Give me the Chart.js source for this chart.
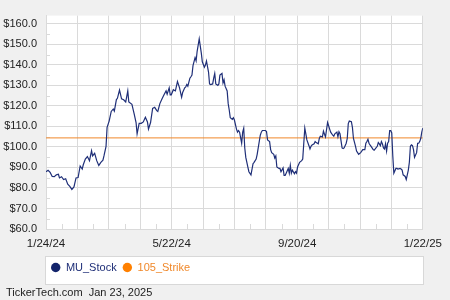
<!DOCTYPE html>
<html>
<head>
<meta charset="utf-8">
<script src="https://cdn.jsdelivr.net/npm/chart.js@4/dist/chart.umd.min.js"></script>
<style>
  html, body { margin: 0; padding: 0; background: #f0f0f0; }
  #wrap { width: 450px; height: 300px; position: relative; }
</style>
</head>
<body>
<div id="wrap"><canvas id="stockChart" width="450" height="300"></canvas></div>
<script>
// days since 1/24/24 and closing prices
const dayOffsets = [
  0, 2, 4, 6, 8, 10, 12, 13, 15, 17,
  19, 21, 23, 25, 27, 29, 31, 33, 35, 36,
  38, 40, 42, 44, 45, 47, 49, 51, 53, 55,
  56, 58, 59, 61, 63, 65, 66, 68, 69, 71,
  73, 75, 77, 79, 80, 83, 85, 87, 88, 90,
  92, 94, 96, 98, 99, 101, 103, 105, 107, 108,
  110, 112, 114, 116, 117, 119, 120, 121, 123, 125,
  127, 129, 131, 132, 134, 135, 136, 137, 139, 140,
  141, 142, 144, 145, 146, 148, 150, 151, 153, 154,
  155, 157, 158, 159, 161, 162, 163, 164, 166, 167,
  168, 170, 171, 172, 173, 175, 176, 177, 178, 180,
  181, 182, 184, 185, 186, 187, 189, 190, 191, 192,
  193, 195, 196, 198, 200, 201, 203, 204, 205, 207,
  208, 209, 211, 212, 213, 214, 216, 217, 218, 220,
  221, 222, 223, 225, 226, 227, 229, 230, 231, 232,
  234, 235, 236, 237, 238, 240, 241, 242, 243, 245,
  247, 248, 250, 251, 252, 254, 255, 256, 257, 259,
  260, 261, 263, 264, 265, 267, 268, 269, 270, 272,
  273, 274, 275, 277, 278, 279, 281, 282, 283, 284,
  286, 287, 288, 290, 291, 292, 293, 295, 296, 297,
  299, 300, 301, 302, 304, 305, 306, 308, 309, 310,
  311, 312, 313, 315, 316, 317, 318, 320, 321, 322,
  323, 324, 325, 326, 327, 328, 329, 330, 331, 332,
  333, 334, 335, 336, 338, 339, 340, 342, 343, 344,
  345, 347, 348, 349, 350, 351, 352, 353, 354, 355,
  356, 358, 359, 360, 361, 362, 363, 364
];
const muPrices = [
  87.9, 88.6, 87.6, 85.6, 85.5, 86.4, 86.7, 84.9, 85.5, 84.1,
  84.5, 81.8, 80.8, 79.3, 80.5, 84.9, 85.1, 90.7, 89.2, 91.3,
  94.1, 95.3, 93.3, 98.1, 95.6, 96.9, 93.3, 91.0, 92.5, 93.5,
  95.6, 100.3, 109.5, 112.6, 117.3, 118.5, 117.5, 123.1, 123.7, 127.7,
  123.4, 123.0, 121.9, 127.3, 121.9, 120.8, 116.5, 111.9, 106.4, 111.5,
  111.5, 112.2, 114.5, 112.2, 108.7, 111.9, 118.8, 119.3, 117.7, 117.3,
  121.1, 123.4, 125.4, 127.3, 125.7, 128.8, 125.4, 125.4, 127.9, 127.3,
  131.9, 128.8, 124.2, 126.5, 128.8, 129.3, 130.4, 129.6, 133.5, 134.2,
  135.0, 139.6, 143.5, 141.9, 146.6, 152.7, 145.8, 141.5, 138.8, 139.9,
  141.9, 136.5, 130.7, 130.4, 130.7, 133.5, 135.8, 130.7, 130.0, 130.7,
  135.0, 135.8, 131.2, 132.7, 129.6, 127.3, 121.1, 118.0, 114.2, 113.4,
  114.2, 113.1, 108.7, 107.2, 108.0, 107.2, 101.8, 107.2, 109.1, 99.5,
  94.9, 90.2, 87.9, 86.4, 91.8, 92.5, 94.1, 96.4, 99.5, 105.7,
  107.2, 108.0, 108.0, 108.0, 107.5, 103.4, 102.6, 98.7, 97.2, 96.4,
  94.6, 95.6, 90.2, 89.5, 89.5, 87.9, 89.8, 86.1, 86.1, 87.2,
  89.5, 87.2, 91.0, 87.2, 88.7, 86.9, 87.9, 87.2, 90.2, 92.5,
  93.3, 94.1, 109.2, 106.4, 103.4, 100.6, 99.0, 100.3, 101.0, 101.5,
  102.6, 102.1, 101.5, 104.1, 105.2, 104.9, 107.7, 106.2, 104.9, 111.9,
  110.3, 108.7, 107.2, 105.7, 105.2, 106.4, 107.2, 104.9, 107.4, 106.4,
  99.5, 99.2, 99.5, 101.8, 104.1, 111.4, 112.6, 112.3, 109.5, 104.1,
  100.3, 98.0, 97.2, 96.4, 97.2, 98.0, 98.7, 98.7, 101.8, 102.6,
  103.7, 101.8, 101.0, 99.5, 98.7, 98.4, 99.0, 100.3, 102.1, 101.5,
  100.6, 102.6, 101.5, 99.5, 99.0, 101.5, 98.0, 101.8, 102.6, 108.0,
  108.0, 106.8, 95.6, 87.2, 89.5, 89.5, 89.2, 89.5, 89.2, 88.7,
  86.4, 85.6, 84.1, 86.4, 88.7, 92.5, 100.3, 101.0, 100.6, 98.7,
  94.9, 97.2, 101.8, 101.8, 102.6, 104.1, 107.2, 109.2
];
const strikePrice = 104.4;
const seriesNames = ['MU_Stock', '105_Strike'];
const xTickLabels = ['1/24/24', '5/22/24', '9/20/24', '1/22/25'];
const yTickValues = [60, 70, 80, 90, 100, 110, 120, 130, 140, 150, 160];
const footerText = 'TickerTech.com  Jan 23, 2025';

const lastDay = 364;
const gridCount = 12;
const font = "'Liberation Sans', Arial, sans-serif";
const gridColor = '#dadada';

const chartLook = {
  id: 'chartLook',
  afterLayout(chart) {
    // legend sits in a white box under the plot
    const lg = chart.legend;
    lg.left = 45; lg.right = 424; lg.width = 379;
    lg.top = 256; lg.bottom = 285; lg.height = 29;
  },
  beforeDraw(chart) {
    const {ctx, chartArea: a} = chart;
    ctx.save();
    ctx.fillStyle = '#f0f0f0';
    ctx.fillRect(0, 0, chart.width, chart.height);
    ctx.fillStyle = '#ffffff';
    ctx.fillRect(a.left, a.top, a.right - a.left, a.bottom - a.top);
    ctx.fillRect(45, 256, 379, 29);
    ctx.strokeStyle = '#d8d8d8';
    ctx.lineWidth = 1;
    ctx.strokeRect(45.5, 256.5, 378, 28);
    ctx.restore();
  },
  beforeDatasetsDraw(chart) {
    // short minor ticks halfway between grid lines
    const {ctx, chartArea: a, scales} = chart;
    ctx.save();
    ctx.strokeStyle = gridColor;
    ctx.lineWidth = 1;
    ctx.beginPath();
    for (let i = 0; i < gridCount; i++) {
      const x = Math.round(scales.x.getPixelForValue((i + 0.5) * lastDay / gridCount)) + 0.5;
      ctx.moveTo(x, a.bottom);
      ctx.lineTo(x, a.bottom - 5);
    }
    for (let v = 65; v < 165; v += 10) {
      const y = Math.round(scales.y.getPixelForValue(v)) + 0.5;
      ctx.moveTo(a.left, y);
      ctx.lineTo(a.left + 4, y);
    }
    ctx.stroke();
    ctx.restore();
  },
  afterDraw(chart) {
    const ctx = chart.ctx;
    ctx.save();
    ctx.font = '11px ' + font;
    ctx.fillStyle = '#222222';
    ctx.textBaseline = 'middle';
    ctx.fillText(footerText, 6, 293);
    ctx.restore();
  }
};

new Chart(document.getElementById('stockChart'), {
  type: 'line',
  data: {
    datasets: [{
      label: seriesNames[0],
      data: dayOffsets.map((d, i) => ({x: d, y: muPrices[i]})),
      borderColor: '#1f2f78',
      backgroundColor: '#13246b',
      borderWidth: 1.2,
      pointRadius: 0,
      tension: 0
    }, {
      label: seriesNames[1],
      data: [{x: 0, y: strikePrice}, {x: lastDay, y: strikePrice}],
      borderColor: '#f0882a',
      backgroundColor: '#ff8000',
      borderWidth: 1,
      pointRadius: 0
    }]
  },
  options: {
    responsive: false,
    animation: false,
    layout: { padding: { top: 2, right: 26, bottom: 20, left: 0 } },
    plugins: {
      tooltip: { enabled: false },
      legend: {
        position: 'bottom',
        align: 'start',
        labels: {
          usePointStyle: true,
          pointStyle: 'circle',
          boxHeight: 6.6,
          pointStyleWidth: 9.4,
          padding: 6,
          font: { family: font, size: 11 },
          generateLabels(chart) {
            return Chart.defaults.plugins.legend.labels.generateLabels(chart)
              .map(l => ({...l, fontColor: l.strokeStyle, strokeStyle: l.fillStyle, lineWidth: 0}));
          }
        }
      }
    },
    scales: {
      x: {
        type: 'linear',
        min: 0,
        max: lastDay,
        afterFit(scale) { scale.height = 24; },
        afterBuildTicks(scale) {
          scale.ticks = Array.from({length: gridCount + 1}, (_, i) => ({value: i * lastDay / gridCount}));
        },
        grid: { color: gridColor, drawTicks: false },
        border: { color: gridColor },
        ticks: {
          padding: 8,
          maxRotation: 0,
          autoSkip: false,
          color: '#222222',
          font: { family: font, size: 11.5 },
          callback(value, index) {
            return index % 4 === 0 ? xTickLabels[index / 4] : '';
          }
        }
      },
      y: {
        min: 60,
        max: 164,
        afterFit(scale) { scale.width = 46; },
        afterBuildTicks(scale) {
          scale.ticks = yTickValues.map(v => ({value: v}));
        },
        grid: { color: gridColor, drawTicks: false },
        border: { color: gridColor },
        ticks: {
          padding: 9,
          color: '#222222',
          font: { family: font, size: 11 },
          callback(value) { return '$' + value.toFixed(1); }
        }
      }
    }
  },
  plugins: [chartLook]
});
</script>
</body>
</html>
